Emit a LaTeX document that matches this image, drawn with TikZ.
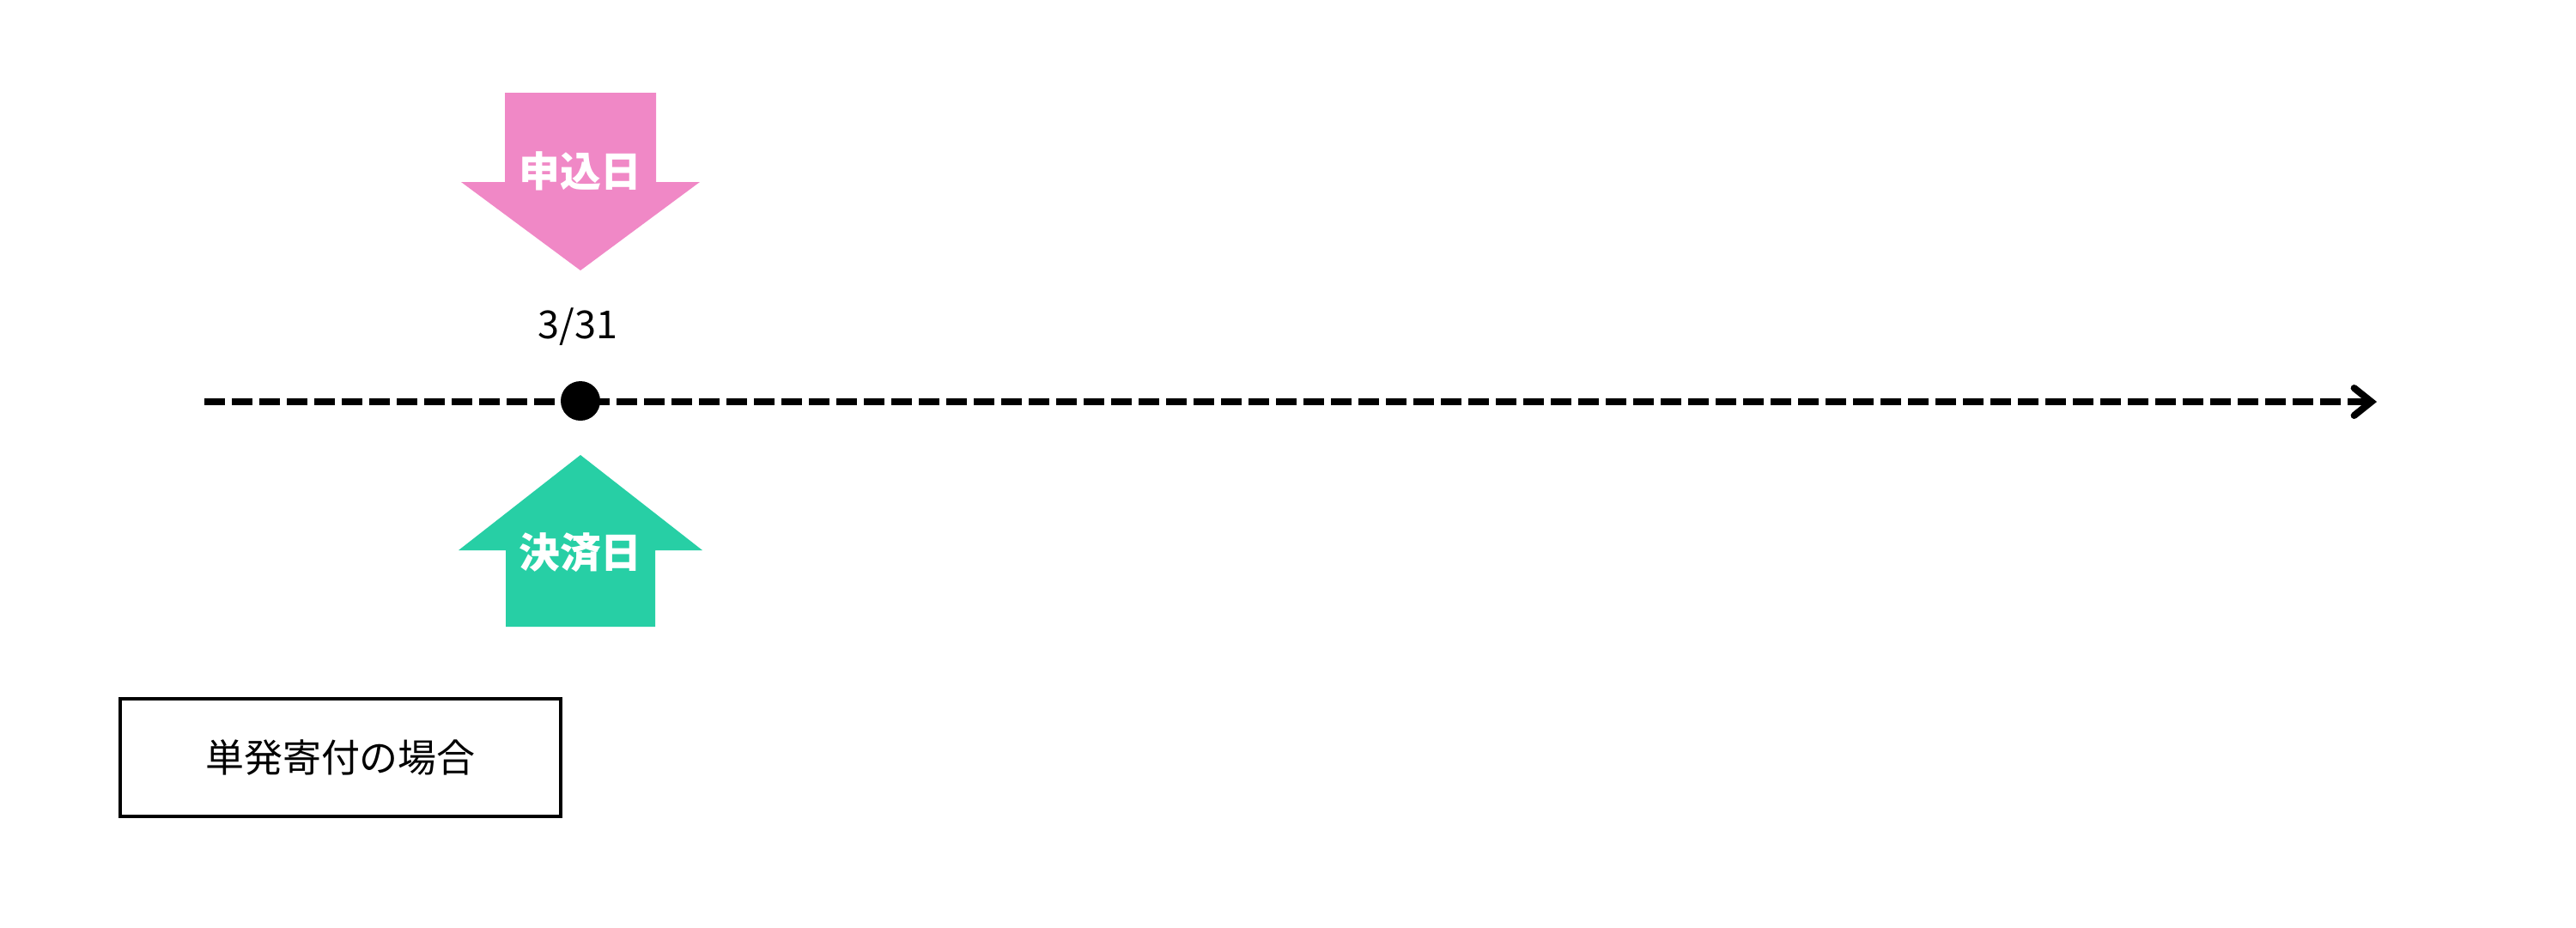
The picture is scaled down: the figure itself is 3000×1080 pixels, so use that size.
\documentclass[tikz,border=0pt]{standalone}
\usepackage{fontspec}
\setmainfont{Noto Sans CJK JP}
\usetikzlibrary{arrows.meta,positioning}
\definecolor{applypink}{RGB}{240,136,198}
\definecolor{paygreen}{RGB}{39,207,165}
\tikzset{
    timeline/.style = {
        line width=0.8mm,
        dash pattern=on 2.4mm off 0.8mm,
        -{Straight Barb[length=2mm,width=3.2mm,line cap=round]},
        },
    point/.style = {
        circle,
        fill = black,
        inner sep = 0pt,
        minimum size = 4.6mm,
        },
    date/.style = {
        font = \fontsize{12.8pt}{15pt}\selectfont,
        inner sep = 0pt,
        },
    day label/.style = {
        text = white,
        font = \fontsize{13.6pt}{16pt}\selectfont\bfseries,
        inner sep = 0pt,
        },
    case box/.style = {
        draw,
        line width = 0.4mm,
        minimum width = 51.3mm,
        minimum height = 13.7mm,
        font = \fontsize{12.8pt}{15pt}\selectfont,
        },
}
\begin{document}
\begin{tikzpicture}[x=0.1mm,y=-0.1mm]
    \useasboundingbox (0,0) rectangle (3000,1080);

    % time axis
    \coordinate (start) at (238,468);
    \coordinate (end) at (2768,468);
    \draw[timeline] (start) -- (end);
    \node[point] (pt) at (676,467) {};
    \node[date] (date) at (673,381) {3/31};

    % application day
    \fill[applypink] (588,108) -- (764,108) -- (764,212) -- (815,212)
        -- (676,315) -- (537,212) -- (588,212) -- cycle;
    \node[day label] (apply) at (676,199) {申込日};

    % payment day
    \fill[paygreen] (676,530) -- (818,641) -- (763,641) -- (763,730)
        -- (589,730) -- (589,641) -- (534,641) -- cycle;
    \node[day label] (pay) at (676,644) {決済日};

    \node[case box] (case) at (396.5,882.5) {単発寄付の場合};
\end{tikzpicture}
\end{document}
